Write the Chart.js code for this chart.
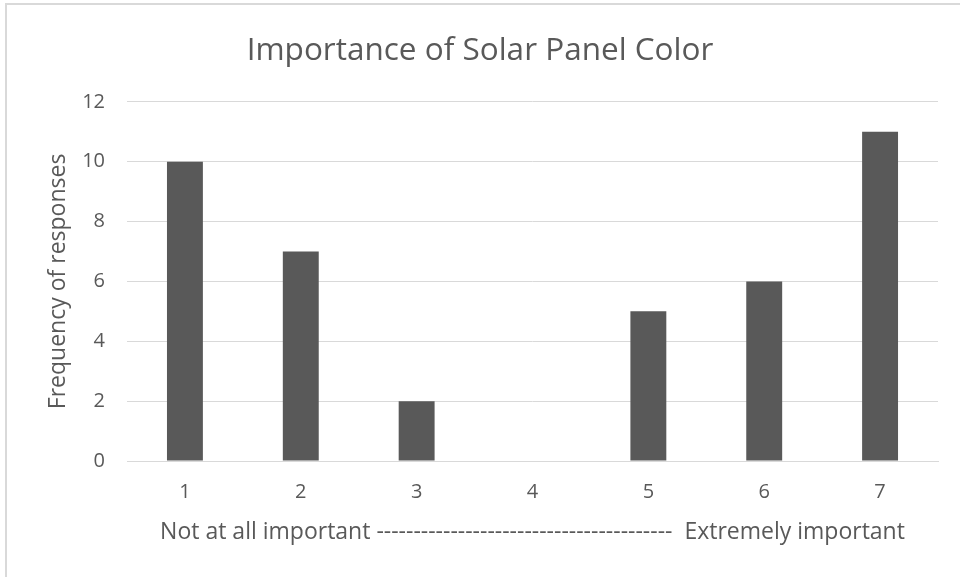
<!DOCTYPE html>
<html>
<head>
<meta charset="utf-8">
<script src="https://cdn.jsdelivr.net/npm/chart.js@4/dist/chart.umd.min.js"></script>
<style>
  html, body { margin: 0; padding: 0; background: #ffffff; }
  #wrap { position: relative; width: 960px; height: 577px; overflow: hidden; }
  #frame { position: absolute; left: 5px; top: 3px; width: 1000px; height: 1000px;
           border-left: 2px solid #d9d9d9; border-top: 2px solid #d9d9d9; pointer-events: none; }
  canvas { position: absolute; left: 0; top: 0; }
</style>
</head>
<body>
<div id="wrap">
  <canvas id="chart" width="960" height="577"></canvas>
  <div id="frame"></div>
</div>
<script>
// Survey scale points and how many responses each received
const scalePoints = ['1', '2', '3', '4', '5', '6', '7'];
const responseCounts = [10, 7, 2, 0, 5, 6, 11];
const yTickValues = [0, 2, 4, 6, 8, 10, 12];

const chartTitle = 'Importance of Solar Panel Color';
const yAxisTitle = 'Frequency of responses';
const xAxisTitle = 'Not at all important ----------------------------------------  Extremely important';

const textColor = '#595959';
const barColor = '#595959';
const gridColor = '#d9d9d9';
const fontFamily = '"Open Sans", Lato, sans-serif';

new Chart(document.getElementById('chart'), {
  type: 'bar',
  data: {
    labels: scalePoints,
    datasets: [{
      data: responseCounts,
      backgroundColor: barColor,
      borderWidth: 0,
      barPercentage: 0.31,
      categoryPercentage: 1.0
    }]
  },
  options: {
    responsive: false,
    animation: false,
    layout: { padding: { left: 22, right: 22, top: 0, bottom: 0 } },
    plugins: {
      legend: { display: false },
      tooltip: { enabled: false },
      title: {
        display: true,
        text: chartTitle,
        color: textColor,
        font: { family: fontFamily, size: 31.5, weight: 'normal', lineHeight: 1.2 },
        padding: { top: 32, bottom: 32 }
      }
    },
    scales: {
      x: {
        afterFit: (scale) => { scale.height = 116; },
        grid: { display: false, drawTicks: false },
        border: { display: true, color: gridColor, width: 1 },
        ticks: {
          color: textColor,
          font: { family: fontFamily, size: 20 },
          padding: 19
        },
        title: {
          display: true,
          text: xAxisTitle,
          color: textColor,
          font: { family: fontFamily, size: 23, lineHeight: 1.2 },
          padding: { top: 10, bottom: 31 }
        }
      },
      y: {
        min: 0,
        max: 12,
        afterBuildTicks: (scale) => { scale.ticks = yTickValues.map(v => ({ value: v })); },
        afterFit: (scale) => { scale.width = 105; },
        grid: { color: gridColor, drawTicks: false, lineWidth: 1 },
        border: { display: false },
        ticks: {
          color: textColor,
          font: { family: fontFamily, size: 20 },
          padding: 22
        },
        title: {
          display: true,
          text: yAxisTitle,
          color: textColor,
          font: { family: fontFamily, size: 23, lineHeight: 1.2 },
          padding: { top: 23, bottom: 0 }
        }
      }
    }
  }
});
</script>
</body>
</html>
